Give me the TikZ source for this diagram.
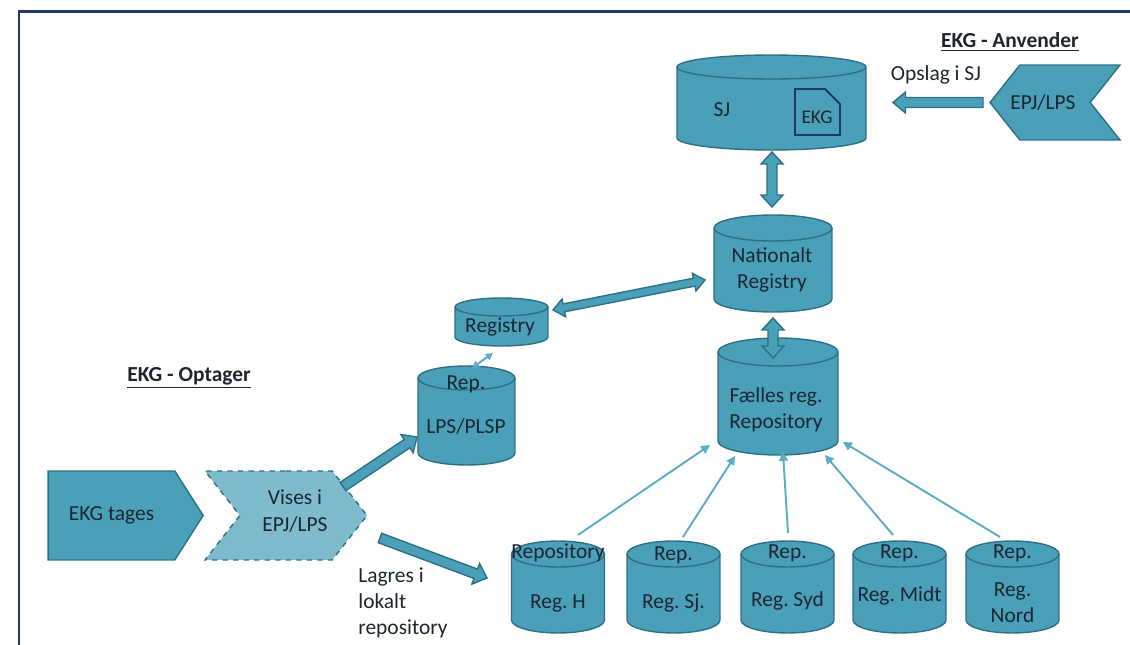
\documentclass[tikz,border=0pt]{standalone}
\usepackage{fontspec}
\setmainfont{Carlito}
\frenchspacing
\usetikzlibrary{positioning,calc,shapes.symbols,arrows.meta}

\definecolor{ekgteal}{HTML}{4BA0B9}
\definecolor{ekgline}{HTML}{2E6F82}
\definecolor{ekglight}{HTML}{7DBBCD}
\definecolor{ekgthin}{HTML}{5AADC5}
\definecolor{ekgnavy}{HTML}{1F3864}
\definecolor{ekgtext}{HTML}{1B2631}

% database cylinder round a node: node, x radius, y radius
\newcommand{\drawdb}[3]{%
  \filldraw[dbshape] ($(#1.north west)+(0cm,-#3)$) -- ($(#1.south west)+(0cm,#3)$)
    arc[start angle=180,end angle=360,x radius=#2,y radius=#3]
    -- ($(#1.north east)+(0cm,-#3)$)
    arc[start angle=0,end angle=180,x radius=#2,y radius=#3] -- cycle;
  \draw[dbshape,fill=none] ($(#1.north west)+(0cm,-#3)$)
    arc[start angle=180,end angle=360,x radius=#2,y radius=#3];
}
% block arrow: start, end, shaft half width, head half width, head length
\newcommand{\blockarrow}[5]{%
  \coordinate (ba-s) at #1;
  \coordinate (ba-t) at #2;
  \coordinate (ba-h) at ($(ba-t)!#5!(ba-s)$);
  \filldraw[blockarr] ($(ba-s)!#3!90:(ba-t)$) -- ($(ba-h)!#3!90:(ba-t)$)
    -- ($(ba-h)!#4!90:(ba-t)$) -- (ba-t) -- ($(ba-h)!#4!-90:(ba-t)$)
    -- ($(ba-h)!#3!-90:(ba-t)$) -- ($(ba-s)!#3!-90:(ba-t)$) -- cycle;
}
% same with a head at both ends
\newcommand{\blockdarrow}[5]{%
  \coordinate (ba-s) at #1;
  \coordinate (ba-t) at #2;
  \coordinate (ba-h) at ($(ba-t)!#5!(ba-s)$);
  \coordinate (ba-g) at ($(ba-s)!#5!(ba-t)$);
  \filldraw[blockarr] (ba-s) -- ($(ba-g)!#4!90:(ba-t)$) -- ($(ba-g)!#3!90:(ba-t)$)
    -- ($(ba-h)!#3!90:(ba-t)$) -- ($(ba-h)!#4!90:(ba-t)$) -- (ba-t)
    -- ($(ba-h)!#4!-90:(ba-t)$) -- ($(ba-h)!#3!-90:(ba-t)$)
    -- ($(ba-g)!#3!-90:(ba-t)$) -- ($(ba-g)!#4!-90:(ba-t)$) -- cycle;
}

\begin{document}
\begin{tikzpicture}[x=0.02cm,y=-0.02cm,
  txt/.style={text=ekgtext,font=\fontsize{12.2}{15}\selectfont,inner sep=0pt,align=center},
  heading/.style={text=ekgtext,font=\fontsize{12.2}{15}\selectfont\bfseries,inner sep=0pt},
  db/.style={inner sep=0pt,outer sep=0pt},
  dbshape/.style={draw=ekgline,fill=ekgteal,line width=0.8pt},
  chev/.style={signal,draw=ekgline,fill=ekgteal,line width=0.8pt,inner sep=0pt,
    text=ekgtext,font=\fontsize{12.2}{15}\selectfont,align=center},
  blockarr/.style={draw=ekgline,fill=ekgteal,line width=0.8pt},
  thinarr/.style={draw=ekgthin,line width=1.1pt,-{Triangle[length=5pt,width=5pt]}}]
\useasboundingbox (0,0) rectangle (1130,645);

% Frame
\draw[ekgnavy,line width=0.06cm] (19,645) -- (19,12) -- (1130,12);

% Databases
\node[db,minimum width=3.78cm,minimum height=1.9cm] (sj) at (771.5,102.5) {};
\node[db,minimum width=2.36cm,minimum height=1.94cm] (nat) at (773,263.5) {};
\node[db,minimum width=2.4cm,minimum height=2.34cm] (faelles) at (778,396.5) {};
\node[db,minimum width=1.86cm,minimum height=0.96cm] (registry) at (501.5,322) {};
\node[db,minimum width=1.94cm,minimum height=1.98cm] (replps) at (466.5,415.5) {};
\node[db,minimum width=1.86cm,minimum height=1.84cm] (regh) at (558,587) {};
\node[db,minimum width=1.86cm,minimum height=1.84cm] (regsj) at (673.5,587) {};
\node[db,minimum width=1.86cm,minimum height=1.84cm] (regsyd) at (787.5,587) {};
\node[db,minimum width=1.86cm,minimum height=1.84cm] (regmidt) at (899.5,587) {};
\node[db,minimum width=1.86cm,minimum height=1.84cm] (regnord) at (1012.5,587) {};
\drawdb{sj}{1.89cm}{0.24cm}
\drawdb{nat}{1.18cm}{0.26cm}
\drawdb{faelles}{1.2cm}{0.28cm}
\drawdb{registry}{0.93cm}{0.18cm}
\drawdb{replps}{0.97cm}{0.24cm}
\foreach \n in {regh,regsj,regsyd,regmidt,regnord}
  \drawdb{\n}{0.93cm}{0.26cm};

% Chevrons
\node[chev,signal to=east,signal pointer angle=115,minimum width=3.1cm,minimum height=1.78cm] (tages) at (111.5,515.5) {EKG tages};
\node[chev,signal from=west,signal to=east,signal pointer angle=104,fill=ekglight,dashed,minimum width=3.24cm,minimum height=1.78cm] (vises) at (286,515.5) {};
\node[chev,signal from=east,signal to=west,signal pointer angle=103,minimum width=2.6cm,minimum height=1.5cm] (epj) at (1055,102.5) {};

% EKG document in SJ
\draw[ekgnavy,line width=1.1pt] (795,89) -- (825,89) -- (840,104) -- (840,135) -- (795,135) -- cycle;

% Block arrows
\blockarrow{($(epj.center)+(-72,0)$)}{($(sj.center)+(121.5,0)$)}{0.1cm}{0.21cm}{0.25cm}
\blockdarrow{($(sj.center)+(0.5,49.5)$)}{($(nat.center)+(-1,-56.5)$)}{0.1cm}{0.22cm}{0.24cm}
\blockdarrow{($(nat.center)+(0,54.5)$)}{($(faelles.center)+(-5,-38.5)$)}{0.1cm}{0.22cm}{0.24cm}
\blockdarrow{($(registry.center)+(51.5,-12)$)}{($(nat.center)+(-68,16.5)$)}{0.08cm}{0.18cm}{0.22cm}
\blockarrow{($(vises.center)+(57,-29)$)}{($(replps.center)+(-49.5,21.5)$)}{0.1cm}{0.22cm}{0.24cm}
\blockarrow{($(vises.center)+(94,22.5)$)}{($(regh.center)+(-71,-9)$)}{0.1cm}{0.22cm}{0.24cm}

% Thin arrows
\draw[ekgthin,line width=1.1pt,{Triangle[length=4pt,width=4pt]}-{Triangle[length=4pt,width=4pt]}] ($(replps.center)+(5.5,-47.5)$) -- ($(registry.center)+(-8.5,31)$);
\draw[thinarr] ($(regh.center)+(20,-52)$) -- ($(faelles.center)+(-68,48.5)$);
\draw[thinarr] ($(regsj.center)+(9.5,-50)$) -- ($(faelles.center)+(-43,59.5)$);
\draw[thinarr] ($(regsyd.center)+(0.5,-54)$) -- ($(faelles.center)+(5,55.5)$);
\draw[thinarr] ($(regmidt.center)+(-6.5,-52)$) -- ($(faelles.center)+(47,58.5)$);
\draw[thinarr] ($(regnord.center)+(-12.5,-50)$) -- ($(faelles.center)+(65,45.5)$);

% Texts
\node[heading] (anvender) at (1010,42) {\underline{EKG - Anvender}};
\node[heading] (optager) at (189,378) {\underline{EKG - Optager}};
\node[txt] (opslag) at (936,75) {Opslag i SJ};
\node[txt] (epjtxt) at (1043,103) {EPJ/LPS};
\node[txt] (sjtxt) at (722,110) {SJ};
\node[txt,font=\fontsize{11}{13}\selectfont] (ekgtxt) at (817,117) {EKG};
\node[txt] (nattxt) at (772,270) {Nationalt\\Registry};
\node[txt] (faellestxt) at (776,410) {Fælles reg.\\Repository};
\node[txt] (registrytxt) at (500,327) {Registry};
\node[txt] (replpstop) at (466,384) {Rep.};
\node[txt] (replpstxt) at (466,427) {LPS/PLSP};
\node[txt] (visestxt) at (295,511) {Vises i\\EPJ/LPS};
\node[txt,align=left,anchor=west,font=\fontsize{12.2}{14.7}\selectfont] (lagres) at (358,603) {Lagres i\\lokalt\\repository};
\node[txt] (reghtop) at (558,553) {Repository};
\node[txt] (regsjtop) at (673.5,555) {Rep.};
\node[txt] (regsydtop) at (787.5,553) {Rep.};
\node[txt] (regmidttop) at (899.5,553) {Rep.};
\node[txt] (regnordtop) at (1012.5,553) {Rep.};
\node[txt] (reghtxt) at (558,603) {Reg. H};
\node[txt] (regsjtxt) at (673.5,603) {Reg. Sj.};
\node[txt] (regsydtxt) at (787.5,601) {Reg. Syd};
\node[txt] (regmidttxt) at (899.5,596) {Reg. Midt};
\node[txt] (regnordtxt) at (1012.5,603) {Reg.\\Nord};

\end{tikzpicture}
\end{document}
